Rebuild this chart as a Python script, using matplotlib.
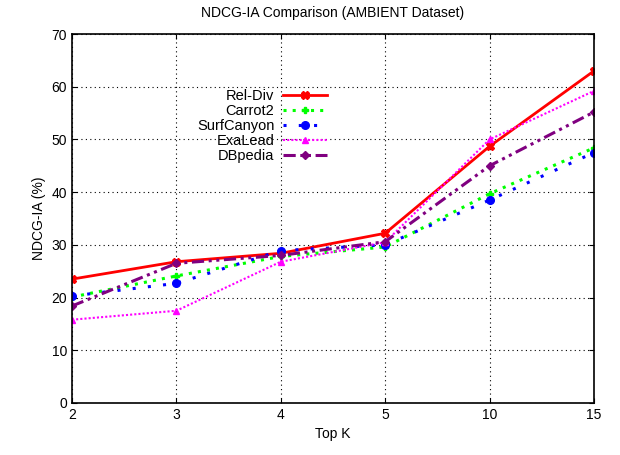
import matplotlib
matplotlib.use("Agg")
import matplotlib.pyplot as plt
import numpy as np

plt.rcParams['font.family'] = ['Liberation Sans', 'DejaVu Sans']

top_k = ["2", "3", "4", "5", "10", "15"]
rel_div = [23.5, 26.8, 28.4, 32.2, 48.7, 63.0]
carrot2 = [20.1, 24.1, 27.8, 29.6, 39.7, 48.4]
surfcanyon = [20.3, 22.7, 28.9, 30.0, 38.5, 47.5]
exalead = [15.8, 17.5, 26.8, 30.5, 50.0, 59.2]
dbpedia = [18.4, 26.5, 28.0, 30.6, 45.0, 55.2]

xs = np.arange(len(top_k))

fig = plt.figure(figsize=(6.2, 4.55), dpi=100)
ax = fig.add_axes([72/620, 1-403/455, (594-72)/620, (403-34)/455])

ax.plot(xs, rel_div, color='#ff0000', lw=2, ls='-', marker='X', ms=6, label='Rel-Div')
ax.plot(xs, carrot2, color='#00ff00', lw=2.2, ls=(0, (1, 2)), marker='P', ms=5, label='Carrot2')
ax.plot(xs, surfcanyon, color='#0000ff', lw=2.2, ls=(0, (1, 4)), marker='o', ms=5.5, label='SurfCanyon')
ax.plot(xs, exalead, color='#ff00ff', lw=1.5, ls=(0, (1, 1)), marker='^', ms=5, label='ExaLead')
ax.plot(xs, dbpedia, color='#800080', lw=2.2, ls=(0, (4, 1.5, 1, 1.5, 1, 1.5)), marker='D', ms=4, label='DBpedia')

ax.set_xlim(0, len(top_k) - 1)
ax.set_ylim(0, 70)
ax.set_xticks(xs)
ax.set_xticklabels(top_k)
ax.set_yticks(range(0, 71, 10))
ax.grid(True, color='black', ls=(0, (1, 3)), lw=0.8)
ax.tick_params(direction='in', top=True, right=True, labelsize=10)
for s in ax.spines.values():
    s.set_linewidth(1.2)

ax.set_xlabel('Top K', fontsize=10)
ax.set_ylabel('NDCG-IA (%)', fontsize=10)
ax.set_title('NDCG-IA Comparison (AMBIENT Dataset)', fontsize=10, pad=12)

leg = ax.legend(loc='upper left', bbox_to_anchor=(0.228, 0.866), markerfirst=False,
                frameon=False, fontsize=10.5, handlelength=3.0, labelspacing=0.06,
                borderaxespad=0, handletextpad=0.6)
for t in leg.get_texts():
    t.set_ha('right')
leg._legend_box.align = 'right'

fig.savefig('out.png', dpi=100)
